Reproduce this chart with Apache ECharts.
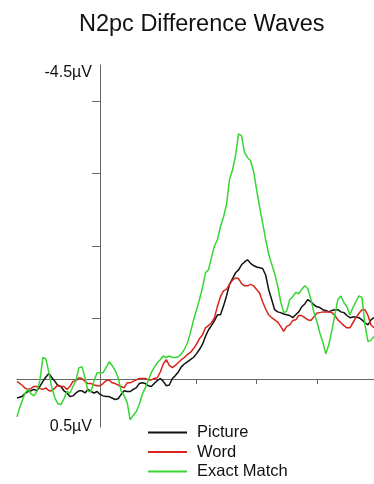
<!DOCTYPE html>
<html>
<head>
<meta charset="utf-8">
<title>N2pc Difference Waves</title>
<script src="https://cdn.jsdelivr.net/npm/echarts@6/dist/echarts.min.js"></script>
<style>
  html, body { margin: 0; padding: 0; background: #fff; }
  #chart { width: 374px; height: 484px; }
</style>
</head>
<body>
<div id="chart"></div>
<script>
// Sample times (ms from stimulus onset)
const times = [-138,
  -135, -130, -125, -120, -115, -110, -105, -100, -95, -90, -85, -80, -75, -70, -65, -60, -55, -50, -45, -40,
  -35, -30, -25, -20, -15, -10, -5, 0, 5, 10, 15, 20, 25, 30, 35, 40, 45, 50, 55, 60,
  65, 70, 75, 80, 85, 90, 95, 100, 105, 110, 115, 120, 125, 130, 135, 140, 145, 150, 155, 160,
  165, 170, 175, 180, 185, 190, 195, 200, 205, 210, 215, 220, 225, 230, 235, 240, 245, 250, 255, 260,
  265, 270, 275, 280, 285, 290, 295, 300, 305, 310, 315, 320, 325, 330, 335, 340, 345, 350, 355, 360,
  365, 370, 375, 380, 385, 390, 395, 400, 405, 410, 415, 420, 425, 430, 435, 440, 445, 450,
  455];

// Contralateral-minus-ipsilateral difference amplitudes (µV), one per sample time
const picture = [0.10,
  0.11, 0.08, 0.04, 0.01, 0.00, -0.02, 0.00, -0.06, -0.13, -0.19, -0.24, -0.18, -0.13, -0.07, -0.06, 0.00, 0.03, 0.08, 0.07, 0.03,
  0.00, 0.00, 0.03, -0.02, 0.01, 0.03, 0.01, 0.05, 0.07, 0.08, 0.08, 0.10, 0.12, 0.11, 0.05, 0.00, 0.01, 0.01, -0.02, -0.04,
  -0.10, -0.11, -0.10, -0.07, -0.06, -0.10, -0.14, -0.17, -0.13, -0.07, -0.08, -0.17, -0.21, -0.26, -0.33, -0.37, -0.40, -0.43, -0.46, -0.51,
  -0.57, -0.64, -0.75, -0.84, -0.90, -0.97, -1.05, -1.05, -1.17, -1.31, -1.47, -1.55, -1.63, -1.67, -1.74, -1.78, -1.81, -1.76, -1.73, -1.71,
  -1.70, -1.69, -1.60, -1.40, -1.26, -1.12, -1.09, -1.08, -1.06, -1.05, -1.04, -1.01, -1.05, -1.09, -1.16, -1.20, -1.26, -1.23, -1.19, -1.16,
  -1.15, -1.12, -1.11, -1.09, -1.11, -1.12, -1.12, -1.09, -1.08, -1.04, -1.01, -1.02, -1.02, -1.01, -0.98, -0.94, -0.91, -0.98,
  -1.01];

const word = [-0.13,
  -0.11, -0.08, -0.04, -0.02, -0.03, -0.06, -0.06, -0.03, -0.02, -0.04, 0.00, 0.00, -0.04, -0.08, -0.06, -0.06, -0.02, -0.06, -0.13, -0.14,
  -0.18, -0.17, -0.13, -0.10, -0.10, -0.08, -0.07, -0.07, -0.10, -0.14, -0.15, -0.11, -0.10, -0.08, -0.06, -0.04, -0.11, -0.11, -0.13, -0.15,
  -0.17, -0.17, -0.17, -0.15, -0.15, -0.17, -0.18, -0.26, -0.37, -0.43, -0.35, -0.32, -0.35, -0.39, -0.43, -0.46, -0.50, -0.53, -0.58, -0.64,
  -0.72, -0.77, -0.87, -0.90, -0.94, -1.01, -1.17, -1.30, -1.38, -1.40, -1.47, -1.53, -1.56, -1.55, -1.48, -1.45, -1.45, -1.47, -1.45, -1.40,
  -1.35, -1.23, -1.13, -1.05, -1.01, -0.98, -0.95, -0.89, -0.82, -0.89, -0.91, -0.97, -0.98, -1.04, -1.04, -1.01, -0.98, -0.97, -1.02, -1.07,
  -1.08, -1.09, -1.09, -1.09, -1.08, -1.04, -0.98, -0.94, -0.90, -0.87, -0.87, -0.94, -1.01, -1.07, -1.12, -1.12, -1.04, -0.91,
  -0.87];

const exactMatch = [0.36,
  0.27, 0.15, 0.04, -0.02, 0.04, 0.07, 0.01, -0.14, -0.46, -0.44, -0.25, -0.04, 0.10, 0.18, 0.19, 0.11, 0.01, 0.03, -0.06, -0.15,
  -0.32, -0.33, -0.18, 0.01, 0.01, -0.14, -0.25, -0.25, -0.25, -0.32, -0.40, -0.35, -0.28, -0.18, 0.00, 0.07, 0.16, 0.40, 0.34, 0.29,
  0.19, 0.05, -0.04, -0.14, -0.25, -0.32, -0.39, -0.43, -0.48, -0.46, -0.48, -0.46, -0.46, -0.47, -0.51, -0.57, -0.66, -0.80, -0.97, -1.11,
  -1.26, -1.42, -1.63, -1.67, -1.84, -2.00, -2.09, -2.27, -2.40, -2.57, -2.92, -3.05, -3.25, -3.55, -3.52, -3.29, -3.22, -3.18, -3.03, -2.78,
  -2.54, -2.32, -2.09, -1.89, -1.75, -1.62, -1.45, -1.23, -1.08, -1.10, -1.26, -1.30, -1.36, -1.34, -1.40, -1.45, -1.41, -1.27, -1.09, -0.96,
  -0.80, -0.67, -0.51, -0.64, -0.83, -1.05, -1.26, -1.31, -1.22, -1.16, -1.05, -1.15, -1.23, -1.31, -1.29, -0.91, -0.68, -0.70,
  -0.75];

const seriesNames = ['Picture', 'Word', 'Exact Match'];
const seriesColors = ['#111111', '#d8241d', '#36d632'];

// Y axis: tick marks every microvolt, labels only at the range ends
const yTicks = [-4, -3, -2, -1];
const yLabels = [-4.5, 0.5];
const xTicks = [160, 260, 360];

const pair = vals => times.map((t, i) => [t, vals[i]]);
const allValues = [picture, word, exactMatch];

const font = '"Liberation Sans", Arial, sans-serif';
const X_MIN = -138;
const X_MAX = 455;
const GRID_LEFT = 17;
const PLOT_WIDTH = 374 - GRID_LEFT;
// The y axis sits at stimulus onset (t = 0): shift it right from the grid edge
const yAxisShift = Math.round((0 - X_MIN) / (X_MAX - X_MIN) * PLOT_WIDTH);

const chart = echarts.init(document.getElementById('chart'), null, { renderer: 'canvas' });
chart.setOption({
  animation: false,
  backgroundColor: '#ffffff',
  title: {
    text: 'N2pc Difference Waves',
    left: 74,
    top: 8,
    textStyle: { fontFamily: font, fontSize: 23.5, fontWeight: 'normal', color: '#111' }
  },
  legend: {
    orient: 'vertical',
    left: 148,
    top: 424,
    height: 80,
    padding: 0,
    icon: 'rect',
    itemWidth: 39,
    itemHeight: 2,
    itemGap: 2.5,
    data: seriesNames,
    textStyle: { fontFamily: font, fontSize: 16.5, color: '#111', padding: [0, 0, 0, 5] }
  },
  grid: { left: GRID_LEFT, right: 0, top: 65, bottom: 57, outerBoundsMode: 'none' },
  xAxis: {
    type: 'value',
    min: X_MIN,
    max: X_MAX,
    position: 'bottom',
    offset: -48,
    axisLine: { onZero: false, lineStyle: { color: '#666', width: 1 } },
    axisTick: { show: true, customValues: xTicks, length: 5, lineStyle: { color: '#666' } },
    axisLabel: { show: false },
    splitLine: { show: false }
  },
  yAxis: {
    type: 'value',
    min: -4.5,
    max: 0.5,
    inverse: true,
    position: 'left',
    offset: -yAxisShift,
    axisLine: { show: true, onZero: false, lineStyle: { color: '#666', width: 1 } },
    axisTick: { show: true, customValues: yTicks, length: 8, lineStyle: { color: '#666' } },
    axisLabel: {
      customValues: yLabels,
      margin: 8,
      fontFamily: font,
      fontSize: 16,
      color: '#111',
      verticalAlignMinLabel: 'top',
      verticalAlignMaxLabel: 'middle',
      formatter: v => v + 'µV'
    },
    splitLine: { show: false }
  },
  series: seriesNames.map((name, i) => ({
    name: name,
    type: 'line',
    data: pair(allValues[i]),
    symbol: 'none',
    smooth: false,
    color: seriesColors[i],
    lineStyle: { color: seriesColors[i], width: 1.5 }
  }))
});
</script>
</body>
</html>
